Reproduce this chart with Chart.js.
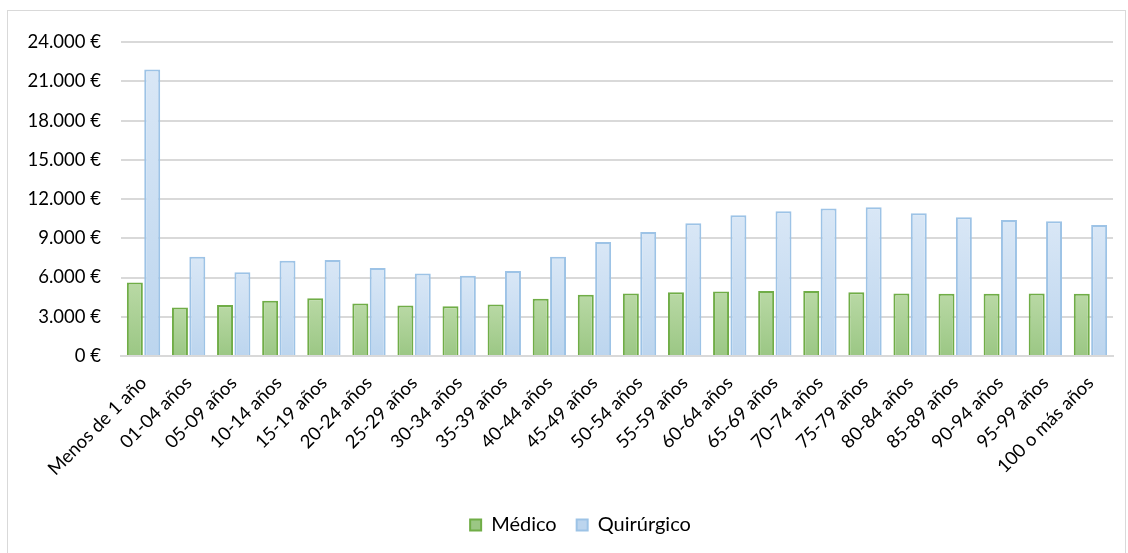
<!DOCTYPE html>
<html lang="es">
<head>
  <meta charset="UTF-8">
  <title>Coste medio por grupo de edad</title>
  <style>
    body {
      margin: 0;
      background: #fff;
      font-family: Lato, "Open Sans", sans-serif;
    }
    .frame {
      position: absolute;
      left: 7px;
      top: 10px;
      width: 1119px;
      height: 560px;
      border: 1px solid #d9d9d9;
      box-sizing: border-box;
    }
    .box {
      position: absolute;
      left: 8px;
      top: 11px;
      width: 1117px;
      height: 542px;
    }
  </style>
</head>
<body>
  <div class="frame"></div>
  <div class="box">
    <canvas id="chart"></canvas>
  </div>
  <script src="https://cdn.jsdelivr.net/npm/chart.js"></script>
  <script>
    // categorías (grupos de edad)
    const labels = [
      "Menos de 1 año", "01-04 años", "05-09 años", "10-14 años", "15-19 años",
      "20-24 años", "25-29 años", "30-34 años", "35-39 años", "40-44 años",
      "45-49 años", "50-54 años", "55-59 años", "60-64 años", "65-69 años",
      "70-74 años", "75-79 años", "80-84 años", "85-89 años", "90-94 años",
      "95-99 años", "100 o más años"
    ];

    // valores (€)
    const medico = [
      5620, 3700, 3890, 4220, 4420, 4010, 3860, 3810, 3930, 4370,
      4680, 4780, 4880, 4930, 4960, 4960, 4880, 4780, 4750, 4750,
      4780, 4750
    ];
    const quirurgico = [
      21900, 7590, 6410, 7280, 7340, 6720, 6310, 6130, 6490, 7590,
      8720, 9480, 10150, 10760, 11070, 11280, 11380, 10920, 10610, 10400,
      10300, 10020
    ];

    const yTicks = [0, 3000, 6000, 9000, 12000, 15000, 18000, 21000, 24000];

    const FONT = { family: "Lato, 'Open Sans', sans-serif", size: 18.5 };

    // degradado vertical por barra (claro arriba, más oscuro abajo)
    function barGradient(top, bottom, fallback) {
      return function (ctx) {
        const chart = ctx.chart;
        const y = chart.scales.y;
        if (!chart.chartArea || !y || ctx.raw == null) return fallback;
        const y0 = y.getPixelForValue(ctx.raw);
        const y1 = y.getPixelForValue(0);
        if (!isFinite(y0) || !isFinite(y1) || y0 === y1) return fallback;
        const g = chart.ctx.createLinearGradient(0, y0, 0, y1);
        g.addColorStop(0, top);
        g.addColorStop(1, bottom);
        return g;
      };
    }

    const fmt = v => v.toLocaleString("de-DE") + " €";

    // la leyenda del original está algo desplazada a la derecha
    const legendShift = {
      id: "legendShift",
      afterLayout(chart) {
        chart.legend.left += 11;
        chart.legend.right += 11;
      }
    };

    new Chart(document.getElementById("chart"), {
      type: "bar",
      data: {
        labels: labels,
        datasets: [
          {
            label: "Médico",
            data: medico,
            backgroundColor: barGradient("#b9d9a5", "#9bc784", "#a9d08e"),
            borderColor: "#70ad47",
            borderWidth: 2,
            categoryPercentage: 0.77,
            barPercentage: 0.92
          },
          {
            label: "Quirúrgico",
            data: quirurgico,
            backgroundColor: barGradient("#d9e7f6", "#bcd5ee", "#cadff2"),
            borderColor: "#9dc3e6",
            borderWidth: 2,
            categoryPercentage: 0.77,
            barPercentage: 0.92
          }
        ]
      },
      plugins: [legendShift],
      options: {
        responsive: true,
        maintainAspectRatio: false,
        animation: false,
        layout: {
          padding: { left: 18, right: 12, top: 14, bottom: 8 }
        },
        plugins: {
          tooltip: { enabled: false },
          legend: {
            position: "bottom",
            labels: {
              color: "#000",
              font: { family: FONT.family, size: 20 },
              boxWidth: 11,
              boxHeight: 11,
              padding: 20
            }
          }
        },
        scales: {
          x: {
            grid: { display: false },
            border: { color: "#d9d9d9", width: 2 },
            afterFit: scale => {
              scale.height += 7;
              // las etiquetas giradas pueden salirse a la izquierda, como en el original
              scale.paddingLeft = 0;
              scale.paddingRight = 0;
            },
            ticks: {
              color: "#000",
              font: FONT,
              maxRotation: 45,
              minRotation: 45,
              autoSkip: false,
              padding: 8
            }
          },
          y: {
            min: 0,
            max: 24000,
            afterBuildTicks: axis => {
              axis.ticks = yTicks.map(v => ({ value: v }));
            },
            afterFit: scale => { scale.width = 95; },
            border: { display: false },
            grid: { color: "#d9d9d9", lineWidth: 2, drawTicks: false },
            ticks: {
              color: "#000",
              font: FONT,
              padding: 20,
              callback: v => fmt(v)
            }
          }
        }
      }
    });
  </script>
</body>
</html>
